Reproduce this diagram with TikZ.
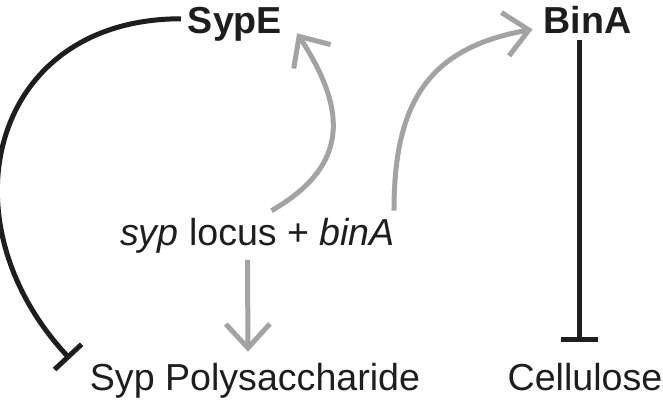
\documentclass[tikz,border=0pt]{standalone}
\usepackage{fontspec}
\setmainfont{Liberation Sans}
\usetikzlibrary{arrows.meta}
\definecolor{ink}{HTML}{1E1E1E}
\definecolor{shade}{HTML}{A3A3A3}

\begin{document}
\begin{tikzpicture}[x=0.5pt, y=0.5pt,
		txt/.style={anchor=base, text=ink, font=\fontsize{18.8}{22}\selectfont},
		act/.style={draw=shade, line width=2.5pt, -{Straight Barb[length=12pt,width=22pt]}},
		rep/.style={draw=ink, line width=2.5pt, -{Bar[width=18.5pt]}}]
		\useasboundingbox (0,0) rectangle (663,404);
		% Define nodes
		\node[txt] (l) at (257.5,159) {\textit{syp} locus + \textit{binA}};
		\node[txt] (e) at ([shift={(-22.5,212)}]l.base) {\textbf{SypE}};
		\node[txt] (b) at ([shift={(330,212)}]l.base) {\textbf{BinA}};
		\node[txt] (s) at ([shift={(-2.5,-145)}]l.base) {Syp Polysaccharide};
		\node[txt] (c) at ([shift={(327.5,-145)}]l.base) {Cellulose};
		
		% Draw activation arrows
		\draw[act] ([xshift=7pt]l.north) to[out=30, in=-57, looseness=1.3] ([xshift=4pt]e.-10);
		\draw[act] ([xshift=-4pt]l.north east) to[out=90, in=190, looseness=1.2] ([xshift=-2pt,yshift=-5pt]b.west);
		\draw[act, shorten >=2pt] ([xshift=-5pt]l.south) -- ([xshift=-3.5pt]s.north);
		
		% Draw inhibition lines
		\draw[rep] ([yshift=2.5pt]e.west) to[out=180, in=133, looseness=1.36] ([xshift=-6.5pt,yshift=-1.5pt]s.north west);
		\draw[rep, shorten >=7pt] ([xshift=-4.25pt]b.south) -- ([xshift=-3pt]c.north);
\end{tikzpicture}
\end{document}
